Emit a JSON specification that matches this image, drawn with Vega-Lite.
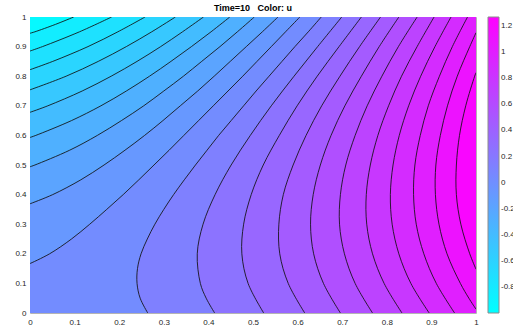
{
  "$schema": "https://vega.github.io/schema/vega-lite/v6.json",
  "width": 446,
  "height": 296,
  "autosize": {"type": "none"},
  "padding": {"left": 30, "top": 17, "right": 37, "bottom": 20},
  "background": "white",
  "title": {"text": "Time=10\u00a0\u00a0\u00a0Color: u", "fontSize": 9, "fontWeight": "bold", "font": "Liberation Sans", "color": "#000000", "offset": 0, "frame": "group"},
  "config": {
    "view": {"stroke": "#b4b4b4", "strokeWidth": 1},
    "axis": {"domain": false, "ticks": false, "grid": false, "labelFontSize": 8, "labelColor": "#262626", "labelFont": "Liberation Sans", "labelFlush": false, "labelOverlap": false, "title": null},
    "legend": {"gradientLength": 296, "gradientThickness": 11, "labelFontSize": 8, "labelColor": "#262626", "labelFont": "Liberation Sans", "padding": 0, "offset": 12, "labelOffset": 4}
  },
  "datasets": {
    "levels": [
      {"k": 1, "band": -0.946}, {"k": 2, "band": -0.838}, {"k": 3, "band": -0.73}, {"k": 4, "band": -0.622},
      {"k": 5, "band": -0.514}, {"k": 6, "band": -0.406}, {"k": 7, "band": -0.298}, {"k": 8, "band": -0.19},
      {"k": 9, "band": -0.082}, {"k": 10, "band": 0.026}, {"k": 11, "band": 0.134}, {"k": 12, "band": 0.242},
      {"k": 13, "band": 0.35}, {"k": 14, "band": 0.458}, {"k": 15, "band": 0.566}, {"k": 16, "band": 0.674},
      {"k": 17, "band": 0.782}, {"k": 18, "band": 0.89}, {"k": 19, "band": 0.998}, {"k": 20, "band": 1.106},
      {"k": 21, "band": 1.214}
    ],
    "contours": [
      {"k":21,"x":1,"y":0,"c":0},{"k":21,"x":1,"y":1,"c":0},
      {"k":20,"x":1,"y":0,"c":0},{"k":20,"x":1,"y":0.148,"c":1},{"k":20,"x":0.986,"y":0.2,"c":1},{"k":20,"x":0.966,"y":0.3,"c":1},{"k":20,"x":0.956,"y":0.4,"c":1},{"k":20,"x":0.956,"y":0.5,"c":1},{"k":20,"x":0.963,"y":0.6,"c":1},{"k":20,"x":0.977,"y":0.7,"c":1},{"k":20,"x":0.997,"y":0.8,"c":1},{"k":20,"x":1,"y":0.812,"c":1},{"k":20,"x":1,"y":1,"c":0},
      {"k":19,"x":1,"y":0,"c":0},{"k":19,"x":1,"y":0.013,"c":1},{"k":19,"x":0.984,"y":0.05,"c":1},{"k":19,"x":0.965,"y":0.1,"c":1},{"k":19,"x":0.935,"y":0.2,"c":1},{"k":19,"x":0.917,"y":0.3,"c":1},{"k":19,"x":0.909,"y":0.4,"c":1},{"k":19,"x":0.91,"y":0.5,"c":1},{"k":19,"x":0.92,"y":0.6,"c":1},{"k":19,"x":0.936,"y":0.7,"c":1},{"k":19,"x":0.958,"y":0.8,"c":1},{"k":19,"x":0.986,"y":0.9,"c":1},{"k":19,"x":1,"y":0.947,"c":1},{"k":19,"x":1,"y":1,"c":0},
      {"k":18,"x":0.952,"y":0,"c":1},{"k":18,"x":0.911,"y":0.1,"c":1},{"k":18,"x":0.883,"y":0.2,"c":1},{"k":18,"x":0.866,"y":0.3,"c":1},{"k":18,"x":0.86,"y":0.4,"c":1},{"k":18,"x":0.863,"y":0.5,"c":1},{"k":18,"x":0.875,"y":0.6,"c":1},{"k":18,"x":0.893,"y":0.7,"c":1},{"k":18,"x":0.918,"y":0.8,"c":1},{"k":18,"x":0.947,"y":0.9,"c":1},{"k":18,"x":0.981,"y":1,"c":1},
      {"k":17,"x":0.895,"y":0,"c":1},{"k":17,"x":0.854,"y":0.1,"c":1},{"k":17,"x":0.827,"y":0.2,"c":1},{"k":17,"x":0.812,"y":0.3,"c":1},{"k":17,"x":0.808,"y":0.4,"c":1},{"k":17,"x":0.814,"y":0.5,"c":1},{"k":17,"x":0.828,"y":0.6,"c":1},{"k":17,"x":0.849,"y":0.7,"c":1},{"k":17,"x":0.876,"y":0.8,"c":1},{"k":17,"x":0.908,"y":0.9,"c":1},{"k":17,"x":0.944,"y":1,"c":1},
      {"k":16,"x":0.834,"y":0,"c":1},{"k":16,"x":0.794,"y":0.1,"c":1},{"k":16,"x":0.768,"y":0.2,"c":1},{"k":16,"x":0.755,"y":0.3,"c":1},{"k":16,"x":0.754,"y":0.4,"c":1},{"k":16,"x":0.763,"y":0.5,"c":1},{"k":16,"x":0.78,"y":0.6,"c":1},{"k":16,"x":0.804,"y":0.7,"c":1},{"k":16,"x":0.833,"y":0.8,"c":1},{"k":16,"x":0.868,"y":0.9,"c":1},{"k":16,"x":0.906,"y":1,"c":1},
      {"k":15,"x":0.768,"y":0,"c":1},{"k":15,"x":0.729,"y":0.1,"c":1},{"k":15,"x":0.705,"y":0.2,"c":1},{"k":15,"x":0.694,"y":0.3,"c":1},{"k":15,"x":0.696,"y":0.4,"c":1},{"k":15,"x":0.708,"y":0.5,"c":1},{"k":15,"x":0.729,"y":0.6,"c":1},{"k":15,"x":0.756,"y":0.7,"c":1},{"k":15,"x":0.789,"y":0.8,"c":1},{"k":15,"x":0.826,"y":0.9,"c":1},{"k":15,"x":0.868,"y":1,"c":1},
      {"k":14,"x":0.696,"y":0,"c":1},{"k":14,"x":0.658,"y":0.1,"c":1},{"k":14,"x":0.636,"y":0.2,"c":1},{"k":14,"x":0.629,"y":0.3,"c":1},{"k":14,"x":0.635,"y":0.4,"c":1},{"k":14,"x":0.651,"y":0.5,"c":1},{"k":14,"x":0.675,"y":0.6,"c":1},{"k":14,"x":0.706,"y":0.7,"c":1},{"k":14,"x":0.743,"y":0.8,"c":1},{"k":14,"x":0.783,"y":0.9,"c":1},{"k":14,"x":0.827,"y":1,"c":1},
      {"k":13,"x":0.616,"y":0,"c":1},{"k":13,"x":0.579,"y":0.1,"c":1},{"k":13,"x":0.56,"y":0.2,"c":1},{"k":13,"x":0.558,"y":0.3,"c":1},{"k":13,"x":0.568,"y":0.4,"c":1},{"k":13,"x":0.59,"y":0.5,"c":1},{"k":13,"x":0.619,"y":0.6,"c":1},{"k":13,"x":0.654,"y":0.7,"c":1},{"k":13,"x":0.695,"y":0.8,"c":1},{"k":13,"x":0.739,"y":0.9,"c":1},{"k":13,"x":0.786,"y":1,"c":1},
      {"k":12,"x":0.524,"y":0,"c":1},{"k":12,"x":0.489,"y":0.1,"c":1},{"k":12,"x":0.475,"y":0.2,"c":1},{"k":12,"x":0.479,"y":0.3,"c":1},{"k":12,"x":0.496,"y":0.4,"c":1},{"k":12,"x":0.523,"y":0.5,"c":1},{"k":12,"x":0.559,"y":0.6,"c":1},{"k":12,"x":0.599,"y":0.7,"c":1},{"k":12,"x":0.644,"y":0.8,"c":1},{"k":12,"x":0.693,"y":0.9,"c":1},{"k":12,"x":0.743,"y":1,"c":1},
      {"k":11,"x":0.414,"y":0,"c":1},{"k":11,"x":0.395,"y":0.05,"c":1},{"k":11,"x":0.382,"y":0.1,"c":1},{"k":11,"x":0.375,"y":0.2,"c":1},{"k":11,"x":0.388,"y":0.3,"c":1},{"k":11,"x":0.415,"y":0.4,"c":1},{"k":11,"x":0.451,"y":0.5,"c":1},{"k":11,"x":0.494,"y":0.6,"c":1},{"k":11,"x":0.541,"y":0.7,"c":1},{"k":11,"x":0.592,"y":0.8,"c":1},{"k":11,"x":0.645,"y":0.9,"c":1},{"k":11,"x":0.699,"y":1,"c":1},
      {"k":10,"x":0.264,"y":0,"c":1},{"k":10,"x":0.247,"y":0.05,"c":1},{"k":10,"x":0.24,"y":0.1,"c":1},{"k":10,"x":0.241,"y":0.15,"c":1},{"k":10,"x":0.249,"y":0.2,"c":1},{"k":10,"x":0.263,"y":0.25,"c":1},{"k":10,"x":0.28,"y":0.3,"c":1},{"k":10,"x":0.3,"y":0.35,"c":1},{"k":10,"x":0.322,"y":0.4,"c":1},{"k":10,"x":0.346,"y":0.45,"c":1},{"k":10,"x":0.371,"y":0.5,"c":1},{"k":10,"x":0.397,"y":0.55,"c":1},{"k":10,"x":0.423,"y":0.6,"c":1},{"k":10,"x":0.451,"y":0.65,"c":1},{"k":10,"x":0.479,"y":0.7,"c":1},{"k":10,"x":0.507,"y":0.75,"c":1},{"k":10,"x":0.536,"y":0.8,"c":1},{"k":10,"x":0.565,"y":0.85,"c":1},{"k":10,"x":0.594,"y":0.9,"c":1},{"k":10,"x":0.624,"y":0.95,"c":1},{"k":10,"x":0.653,"y":1,"c":1},
      {"k":9,"x":0,"y":0.167,"c":1},{"k":9,"x":0.044,"y":0.2,"c":1},{"k":9,"x":0.093,"y":0.25,"c":1},{"k":9,"x":0.134,"y":0.3,"c":1},{"k":9,"x":0.172,"y":0.35,"c":1},{"k":9,"x":0.209,"y":0.4,"c":1},{"k":9,"x":0.244,"y":0.45,"c":1},{"k":9,"x":0.278,"y":0.5,"c":1},{"k":9,"x":0.312,"y":0.55,"c":1},{"k":9,"x":0.345,"y":0.6,"c":1},{"k":9,"x":0.378,"y":0.65,"c":1},{"k":9,"x":0.411,"y":0.7,"c":1},{"k":9,"x":0.444,"y":0.75,"c":1},{"k":9,"x":0.477,"y":0.8,"c":1},{"k":9,"x":0.509,"y":0.85,"c":1},{"k":9,"x":0.541,"y":0.9,"c":1},{"k":9,"x":0.573,"y":0.95,"c":1},{"k":9,"x":0.605,"y":1,"c":1},
      {"k":8,"x":0,"y":0.369,"c":1},{"k":8,"x":0.051,"y":0.4,"c":1},{"k":8,"x":0.114,"y":0.45,"c":1},{"k":8,"x":0.166,"y":0.5,"c":1},{"k":8,"x":0.213,"y":0.55,"c":1},{"k":8,"x":0.257,"y":0.6,"c":1},{"k":8,"x":0.298,"y":0.65,"c":1},{"k":8,"x":0.337,"y":0.7,"c":1},{"k":8,"x":0.376,"y":0.75,"c":1},{"k":8,"x":0.413,"y":0.8,"c":1},{"k":8,"x":0.449,"y":0.85,"c":1},{"k":8,"x":0.485,"y":0.9,"c":1},{"k":8,"x":0.521,"y":0.95,"c":1},{"k":8,"x":0.556,"y":1,"c":1},
      {"k":7,"x":0,"y":0.494,"c":1},{"k":7,"x":0.011,"y":0.5,"c":1},{"k":7,"x":0.089,"y":0.55,"c":1},{"k":7,"x":0.151,"y":0.6,"c":1},{"k":7,"x":0.205,"y":0.65,"c":1},{"k":7,"x":0.255,"y":0.7,"c":1},{"k":7,"x":0.3,"y":0.75,"c":1},{"k":7,"x":0.344,"y":0.8,"c":1},{"k":7,"x":0.385,"y":0.85,"c":1},{"k":7,"x":0.426,"y":0.9,"c":1},{"k":7,"x":0.465,"y":0.95,"c":1},{"k":7,"x":0.503,"y":1,"c":1},
      {"k":6,"x":0,"y":0.593,"c":1},{"k":6,"x":0.013,"y":0.6,"c":1},{"k":6,"x":0.093,"y":0.65,"c":1},{"k":6,"x":0.159,"y":0.7,"c":1},{"k":6,"x":0.216,"y":0.75,"c":1},{"k":6,"x":0.268,"y":0.8,"c":1},{"k":6,"x":0.316,"y":0.85,"c":1},{"k":6,"x":0.362,"y":0.9,"c":1},{"k":6,"x":0.406,"y":0.95,"c":1},{"k":6,"x":0.448,"y":1,"c":1},
      {"k":5,"x":0,"y":0.678,"c":1},{"k":5,"x":0.04,"y":0.7,"c":1},{"k":5,"x":0.117,"y":0.75,"c":1},{"k":5,"x":0.182,"y":0.8,"c":1},{"k":5,"x":0.24,"y":0.85,"c":1},{"k":5,"x":0.293,"y":0.9,"c":1},{"k":5,"x":0.342,"y":0.95,"c":1},{"k":5,"x":0.389,"y":1,"c":1},
      {"k":4,"x":0,"y":0.754,"c":1},{"k":4,"x":0.081,"y":0.8,"c":1},{"k":4,"x":0.153,"y":0.85,"c":1},{"k":4,"x":0.216,"y":0.9,"c":1},{"k":4,"x":0.273,"y":0.95,"c":1},{"k":4,"x":0.326,"y":1,"c":1},
      {"k":3,"x":0,"y":0.822,"c":1},{"k":3,"x":0.051,"y":0.85,"c":1},{"k":3,"x":0.13,"y":0.9,"c":1},{"k":3,"x":0.197,"y":0.95,"c":1},{"k":3,"x":0.258,"y":1,"c":1},
      {"k":2,"x":0,"y":0.885,"c":1},{"k":2,"x":0.028,"y":0.9,"c":1},{"k":2,"x":0.111,"y":0.95,"c":1},{"k":2,"x":0.183,"y":1,"c":1},
      {"k":1,"x":0,"y":0.945,"c":1},{"k":1,"x":0.011,"y":0.95,"c":1},{"k":1,"x":0.057,"y":0.975,"c":1},{"k":1,"x":0.098,"y":1,"c":1}
    ]
  },
  "data": {"name": "contours"},
  "layer": [
    {
      "transform": [{"lookup": "k", "from": {"data": {"name": "levels"}, "key": "k", "fields": ["band"]}}],
      "mark": {"type": "area", "orient": "horizontal", "interpolate": "catmull-rom", "clip": true},
      "encoding": {
        "y": {"field": "y", "type": "quantitative", "scale": {"domain": [0, 1], "nice": false},
              "axis": {"values": [0, 0.1, 0.2, 0.3, 0.4, 0.5, 0.6, 0.7, 0.8, 0.9, 1], "format": "~g", "labelPadding": 4, "labelOverlap": false}},
        "x": {"field": "x", "type": "quantitative", "stack": null, "scale": {"domain": [0, 1], "nice": false},
              "axis": {"values": [0, 0.1, 0.2, 0.3, 0.4, 0.5, 0.6, 0.7, 0.8, 0.9, 1], "format": "~g", "labelPadding": 5, "labelOverlap": false}},
        "x2": {"datum": 0},
        "color": {"field": "band", "type": "quantitative",
                  "scale": {"domain": [-1, 1.27], "range": ["#00ffff", "#ff00ff"], "interpolate": "rgb"},
                  "legend": {"title": null, "direction": "vertical", "orient": "right",
                             "values": [-0.8, -0.6, -0.4, -0.2, 0, 0.2, 0.4, 0.6, 0.8, 1, 1.2],
                             "labelExpr": "'' + datum.value", "labelOverlap": false,
                             "gradientStrokeColor": "#8c8c8c", "gradientStrokeWidth": 1}},
        "detail": {"field": "k", "type": "nominal"}
      }
    },
    {
      "transform": [{"filter": "datum.c == 1"}],
      "mark": {"type": "line", "orient": "horizontal", "interpolate": "catmull-rom", "stroke": "#111111", "strokeWidth": 0.85, "clip": true},
      "encoding": {
        "x": {"field": "x", "type": "quantitative",
              "axis": {"values": [0, 0.1, 0.2, 0.3, 0.4, 0.5, 0.6, 0.7, 0.8, 0.9, 1], "format": "~g", "labelPadding": 5, "labelOverlap": false}},
        "y": {"field": "y", "type": "quantitative",
              "axis": {"values": [0, 0.1, 0.2, 0.3, 0.4, 0.5, 0.6, 0.7, 0.8, 0.9, 1], "format": "~g", "labelPadding": 4, "labelOverlap": false}},
        "detail": {"field": "k", "type": "nominal"},
        "order": {"field": "y", "type": "quantitative"}
      }
    }
  ]
}
